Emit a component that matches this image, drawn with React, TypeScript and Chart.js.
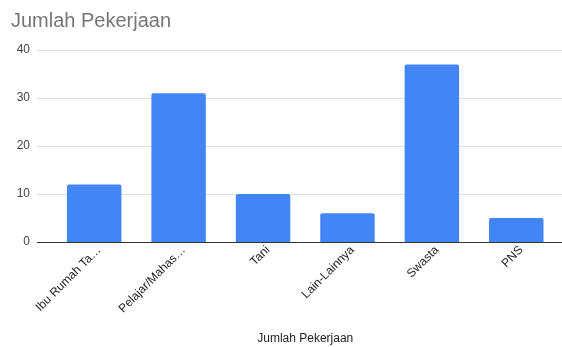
import React, { useEffect, useRef } from "react";
import { Chart, registerables } from "chart.js";

Chart.register(...registerables);

const categories = ["Ibu Rumah Ta…", "Pelajar/Mahas…", "Tani", "Lain-Lainnya", "Swasta", "PNS"];
const values = [12, 31, 10, 6, 37, 5];
const chartTitle = "Jumlah Pekerjaan";
const axisTitle = "Jumlah Pekerjaan";

const FONT = "'Liberation Sans', Arial, sans-serif";

const gridPlugin = {
  id: "customGrid",
  beforeDatasetsDraw(chart: any) {
    const { ctx } = chart;
    const y = chart.scales.y;
    ctx.save();
    y.ticks.forEach((t: any) => {
      const py = Math.round(y.getPixelForValue(t.value)) + 0.5;
      ctx.beginPath();
      ctx.strokeStyle = t.value === 0 ? "#333333" : "#dddddd";
      ctx.lineWidth = 1;
      ctx.moveTo(37, py);
      ctx.lineTo(chart.width, py);
      ctx.stroke();
    });
    ctx.restore();
  },
  afterDraw(chart: any) {
    const { ctx } = chart;
    ctx.save();
    ctx.font = `20px ${FONT}`;
    ctx.fillStyle = "#757575";
    ctx.textBaseline = "alphabetic";
    ctx.textAlign = "left";
    ctx.fillText(chartTitle, 11, 27);
    ctx.restore();
  },
};

export default function App() {
  const ref = useRef<HTMLCanvasElement>(null);
  useEffect(() => {
    document.body.style.margin = "0";
    const chart = new Chart(ref.current!, {
      type: "bar",
      data: {
        labels: categories,
        datasets: [
          {
            data: values,
            backgroundColor: "#4285f4",
            borderRadius: 2,
            borderSkipped: "bottom",
            barPercentage: 0.645,
            categoryPercentage: 1,
          },
        ],
      },
      options: {
        animation: false,
        responsive: false,
        maintainAspectRatio: false,
        layout: { padding: { top: 50, right: 3.5, left: 0, bottom: 0 } },
        plugins: { legend: { display: false }, tooltip: { enabled: false } },
        scales: {
          x: {
            grid: { display: false, drawTicks: false },
            border: { display: false },
            ticks: {
              minRotation: 45,
              maxRotation: 45,
              autoSkip: false,
              color: "#222222",
              font: { family: FONT, size: 12 },
              padding: 1,
              labelOffset: 5,
            },
            title: {
              display: true,
              text: axisTitle,
              color: "#222222",
              font: { family: FONT, size: 12 },
              padding: { top: 0, bottom: 1 },
            },
            afterFit(scale: any) {
              scale.height = 105;
            },
          },
          y: {
            min: 0,
            max: 40,
            grid: { display: false, drawTicks: false },
            border: { display: false },
            ticks: {
              stepSize: 10,
              color: "#444444",
              font: { family: FONT, size: 12 },
              padding: 22,
            },
            afterFit(scale: any) {
              scale.width = 52;
            },
          },
        },
      },
      plugins: [gridPlugin],
    });
    return () => chart.destroy();
  }, []);
  return (
    <div style={{ width: 562, height: 347 }}>
      <canvas ref={ref} width={562} height={347} style={{ display: "block" }} />
    </div>
  );
}
